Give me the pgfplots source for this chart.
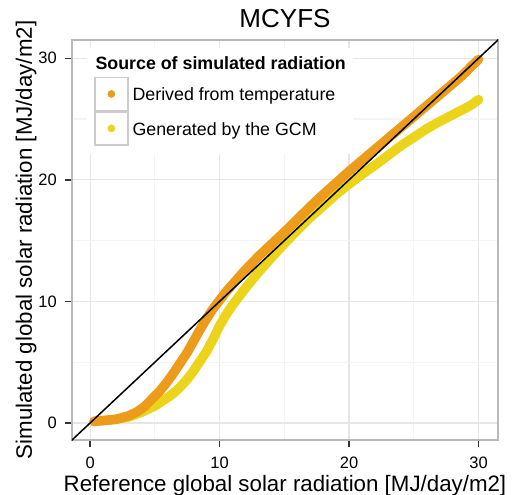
\documentclass[border=0pt]{standalone}
\usepackage{pgfplots}
\pgfplotsset{compat=1.18}
\usepackage{fontspec}
\setmainfont{Liberation Sans}
\definecolor{cOrange}{RGB}{236,155,26}
\definecolor{cYellow}{RGB}{235,212,25}
\definecolor{gridmaj}{RGB}{230,230,230}
\definecolor{gridmin}{RGB}{244,244,244}
\definecolor{keygray}{RGB}{204,204,204}
\definecolor{tickcol}{RGB}{51,51,51}
\begin{document}
\begin{tikzpicture}
\useasboundingbox (-72bp,-55bp) rectangle (442bp,440bp);
\begin{axis}[
  scale only axis, width=426bp, height=400bp,
  xmin=-1.4, xmax=31.5, ymin=-1.4, ymax=31.5,
  xtick={0,10,20,30}, ytick={0,10,20,30},
  minor xtick={5,15,25}, minor ytick={5,15,25},
  xmajorgrids, ymajorgrids, xminorgrids, yminorgrids,
  major grid style={draw=gridmaj, line width=1.2bp},
  minor grid style={draw=gridmin, line width=1.2bp},
  minor tick length=0pt,
  major tick length=7bp,
  tick align=outside,
  xtick pos=bottom, ytick pos=left,
  major tick style={draw=tickcol, line width=1.4bp},
  axis line style={draw=gray!55, line width=1.3bp},
  /pgf/number format/assume math mode=true,
  xticklabel style={font=\fontsize{16.5bp}{18bp}\selectfont, inner sep=0pt, anchor=north},
  yticklabel style={font=\fontsize{16.5bp}{18bp}\selectfont, inner sep=0pt, anchor=east},
  xticklabel shift=9.7bp,
  yticklabel shift=8bp,
  title={MCYFS},
  title style={at={(axis description cs:0.5,1.01675)}, anchor=base, font=\fontsize{26bp}{30bp}\selectfont, inner sep=0pt},
  xlabel={Reference global solar radiation [MJ/day/m2]},
  ylabel={Simulated global solar radiation [MJ/day/m2]},
  xlabel style={at={(axis description cs:0.5,-0.12925)}, anchor=base, font=\fontsize{22.3bp}{26bp}\selectfont, inner sep=0pt},
  ylabel style={at={(axis description cs:-0.0939,0.5)}, anchor=base, font=\fontsize{22.3bp}{26bp}\selectfont, inner sep=0pt},
  legend style={at={(axis description cs:0.0352,0.98)}, anchor=north west, fill=white, draw=none,
    inner xsep=7bp, inner ysep=8bp, row sep=0pt, column sep=4bp,
    font=\fontsize{17.8bp}{21bp}\selectfont,
    nodes={inner sep=0pt, text depth=}, cells={anchor=base west}},
]
\addlegendimage{empty legend}
\addlegendentry{\hspace*{-37bp}\textbf{Source of simulated radiation}\rule[-7.7bp]{0pt}{0pt}}
\addlegendimage{legend image code/.code={\draw[draw=keygray, line width=1.4bp, fill=white] (0bp,-9.5bp) rectangle (33bp,23.5bp); \fill[cOrange] (16.5bp,7bp) circle[radius=3.6bp];}}
\addlegendentry{Derived from temperature}
\addlegendimage{legend image code/.code={\draw[draw=keygray, line width=1.4bp, fill=white] (0bp,-9.5bp) rectangle (33bp,23.5bp); \fill[cYellow] (16.5bp,7bp) circle[radius=3.6bp];}}
\addlegendentry{Generated by the GCM}
\addplot[forget plot, draw=cYellow, line width=9.5bp, line cap=round, line join=round] table {
x y
0.3 0.1
1.0 0.2
2.0 0.3
3.0 0.5
4.0 0.9
5.0 1.4
5.5 1.75
6.0 2.1
6.5 2.5
7.0 3.0
7.5 3.6
8.0 4.3
8.5 5.1
9.0 5.9
9.5 6.9
10.0 8.0
10.5 8.9
11.0 9.7
11.5 10.4
12.0 11.1
13.0 12.4
14.0 13.6
15.0 14.75
16.0 15.85
17.0 16.9
18.0 17.85
19.0 18.8
20.0 19.65
21.0 20.45
22.0 21.2
23.0 22.0
24.0 22.8
25.0 23.5
26.0 24.2
27.0 24.8
28.0 25.35
29.0 25.9
29.5 26.2
30.0 26.6
};
\addplot[forget plot, draw=cOrange, line width=9.5bp, line cap=round, line join=round] table {
x y
0.3 0.15
1.0 0.2
2.0 0.3
3.0 0.6
3.6 0.9
4.2 1.35
4.8 2.0
5.4 2.65
6.0 3.45
6.5 4.2
7.0 5.0
7.5 5.8
8.0 6.75
8.5 7.7
9.0 8.6
9.5 9.4
10.0 10.1
10.5 10.8
11.0 11.4
12.0 12.6
13.0 13.7
14.0 14.7
15.0 15.7
16.0 16.75
17.0 17.8
18.0 18.8
19.0 19.75
20.0 20.7
21.0 21.6
22.0 22.5
23.0 23.4
24.0 24.3
25.0 25.2
26.0 26.1
27.0 27.0
28.0 27.9
28.6 28.45
29.0 28.85
29.5 29.4
30.0 29.9
};
\addplot[forget plot, draw=black, line width=1.5bp] coordinates {(-2,-2) (33,33)};
\end{axis}
\end{tikzpicture}
\end{document}
